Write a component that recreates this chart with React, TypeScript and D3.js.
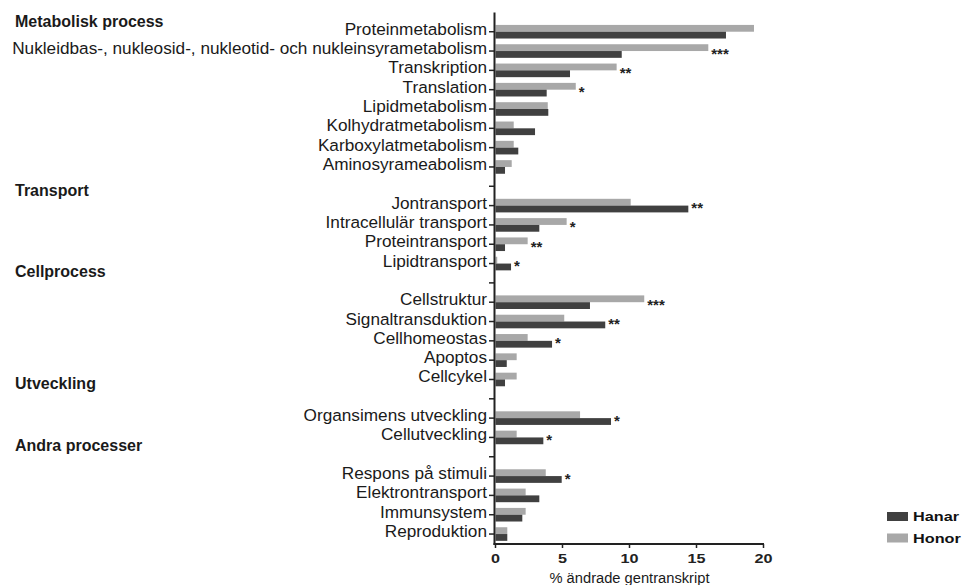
import React from "react";
import * as d3 from "d3";

const groups = ["Metabolisk process", "Transport", "Cellprocess", "Utveckling", "Andra processer"];
const headingOffsets = [14.6, 9.7, -6, -10, -6];

const categories = [
  "Proteinmetabolism",
  "Nukleidbas-, nukleosid-, nukleotid- och nukleinsyrametabolism",
  "Transkription",
  "Translation",
  "Lipidmetabolism",
  "Kolhydratmetabolism",
  "Karboxylatmetabolism",
  "Aminosyrameabolism",
  "Jontransport",
  "Intracellulär transport",
  "Proteintransport",
  "Lipidtransport",
  "Cellstruktur",
  "Signaltransduktion",
  "Cellhomeostas",
  "Apoptos",
  "Cellcykel",
  "Organsimens utveckling",
  "Cellutveckling",
  "Respons på stimuli",
  "Elektrontransport",
  "Immunsystem",
  "Reproduktion",
];
const groupOf = [0, 0, 0, 0, 0, 0, 0, 0, 1, 1, 1, 1, 2, 2, 2, 2, 2, 3, 3, 4, 4, 4, 4];
const hanar = [17.2, 9.42, 5.56, 3.82, 3.94, 2.95, 1.7, 0.71, 14.39, 3.27, 0.71, 1.16, 7.05, 8.19, 4.22, 0.84, 0.71, 8.62, 3.57, 4.94, 3.27, 2.0, 0.88];
const honor = [19.29, 15.88, 9.04, 5.99, 3.9, 1.36, 1.36, 1.21, 10.09, 5.31, 2.4, 0.13, 11.1, 5.13, 2.4, 1.58, 1.58, 6.31, 1.58, 3.75, 2.25, 2.25, 0.88];
const signif = ["", "***", "**", "*", "", "", "", "", "**", "*", "**", "*", "***", "**", "*", "", "", "*", "*", "*", "", "", ""];
const xTicks = [0, 5, 10, 15, 20];
const seriesNames = ["Hanar", "Honor"];
const seriesColors = ["#404040", "#a8a8a8"];
const xTitle = "% ändrade gentranskript";

type Slot = { key: string; cat: number; group: number };

export default function App() {
  const W = 962, H = 585;
  const slots: Slot[] = [];
  let prev = -1;
  categories.forEach((c, i) => {
    if (groupOf[i] !== prev) {
      slots.push({ key: "g" + groupOf[i], cat: -1, group: groupOf[i] });
      prev = groupOf[i];
    }
    slots.push({ key: "c" + i, cat: i, group: groupOf[i] });
  });

  const y = d3.scaleBand<string>().domain(slots.map((s) => s.key)).range([2.74, 543.7]).padding(0);
  const x = d3.scaleLinear().domain([0, 20]).range([495.5, 763.5]);
  const yc = (k: string) => (y(k) as number) + y.bandwidth() / 2;
  const barH = 6.8;
  const axisX = 494.5;
  const axisY = 544;
  const font = "'Liberation Sans', Arial, Helvetica, sans-serif";

  return (
    <svg width={W} height={H} style={{ position: "absolute", left: 0, top: 0, display: "block" }} fontFamily={font}>
      <rect x={0} y={0} width={W} height={H} fill="#ffffff" />
      {slots.filter((s) => s.cat < 0).map((s) => (
        <text key={s.key} x={15} y={yc(s.key) + headingOffsets[s.group]} fontSize={16} fontWeight="bold" fill="#1a1a1a">
          {groups[s.group]}
        </text>
      ))}
      {slots.filter((s) => s.cat >= 0).map((s) => {
        const cy = yc(s.key);
        const i = s.cat;
        const maxV = Math.max(hanar[i], honor[i]);
        return (
          <g key={s.key}>
            <rect x={x(0)} y={cy - barH} width={x(honor[i]) - x(0)} height={barH} fill={seriesColors[1]} />
            <rect x={x(0)} y={cy} width={x(hanar[i]) - x(0)} height={barH} fill={seriesColors[0]} />
            <text x={487} y={cy + 3} textAnchor="end" fontSize={17.2} fill="#1a1a1a">
              {categories[i]}
            </text>
            {signif[i] && (
              <text x={x(maxV) + 3} y={cy + 7.5} fontSize={15} fontWeight="bold" fill="#222">
                {signif[i]}
              </text>
            )}
          </g>
        );
      })}
      <line x1={axisX} x2={axisX} y1={12.4} y2={axisY + 1} stroke="#222" strokeWidth={2} />
      {slots.slice(1).map((s) => (
        <line key={"t" + s.key} x1={489} x2={axisX} y1={yc(s.key)} y2={yc(s.key)} stroke="#222" strokeWidth={1.5} />
      ))}
      <line x1={axisX - 1} x2={x(20) + 0.5} y1={axisY} y2={axisY} stroke="#222" strokeWidth={2} />
      {xTicks.map((t) => (
        <g key={"xt" + t}>
          <line x1={x(t)} x2={x(t)} y1={axisY} y2={axisY + 4} stroke="#222" strokeWidth={1.5} />
          <text transform={`translate(${x(t)},${563}) scale(1.35,1)`} textAnchor="middle" fontSize={12} fontWeight="bold" fill="#222">
            {t}
          </text>
        </g>
      ))}
      <text x={(x(0) + x(20)) / 2} y={582.5} textAnchor="middle" fontSize={14.7} fill="#1a1a1a">
        {xTitle}
      </text>
      {seriesNames.map((n, i) => (
        <g key={n}>
          <rect x={887} y={512 + i * 21.5} width={21} height={9} fill={seriesColors[i]} />
          <text transform={`translate(913,${521 + i * 21.5}) scale(1.3,1)`} fontSize={12.5} fontWeight="bold" fill="#111">
            {n}
          </text>
        </g>
      ))}
    </svg>
  );
}
